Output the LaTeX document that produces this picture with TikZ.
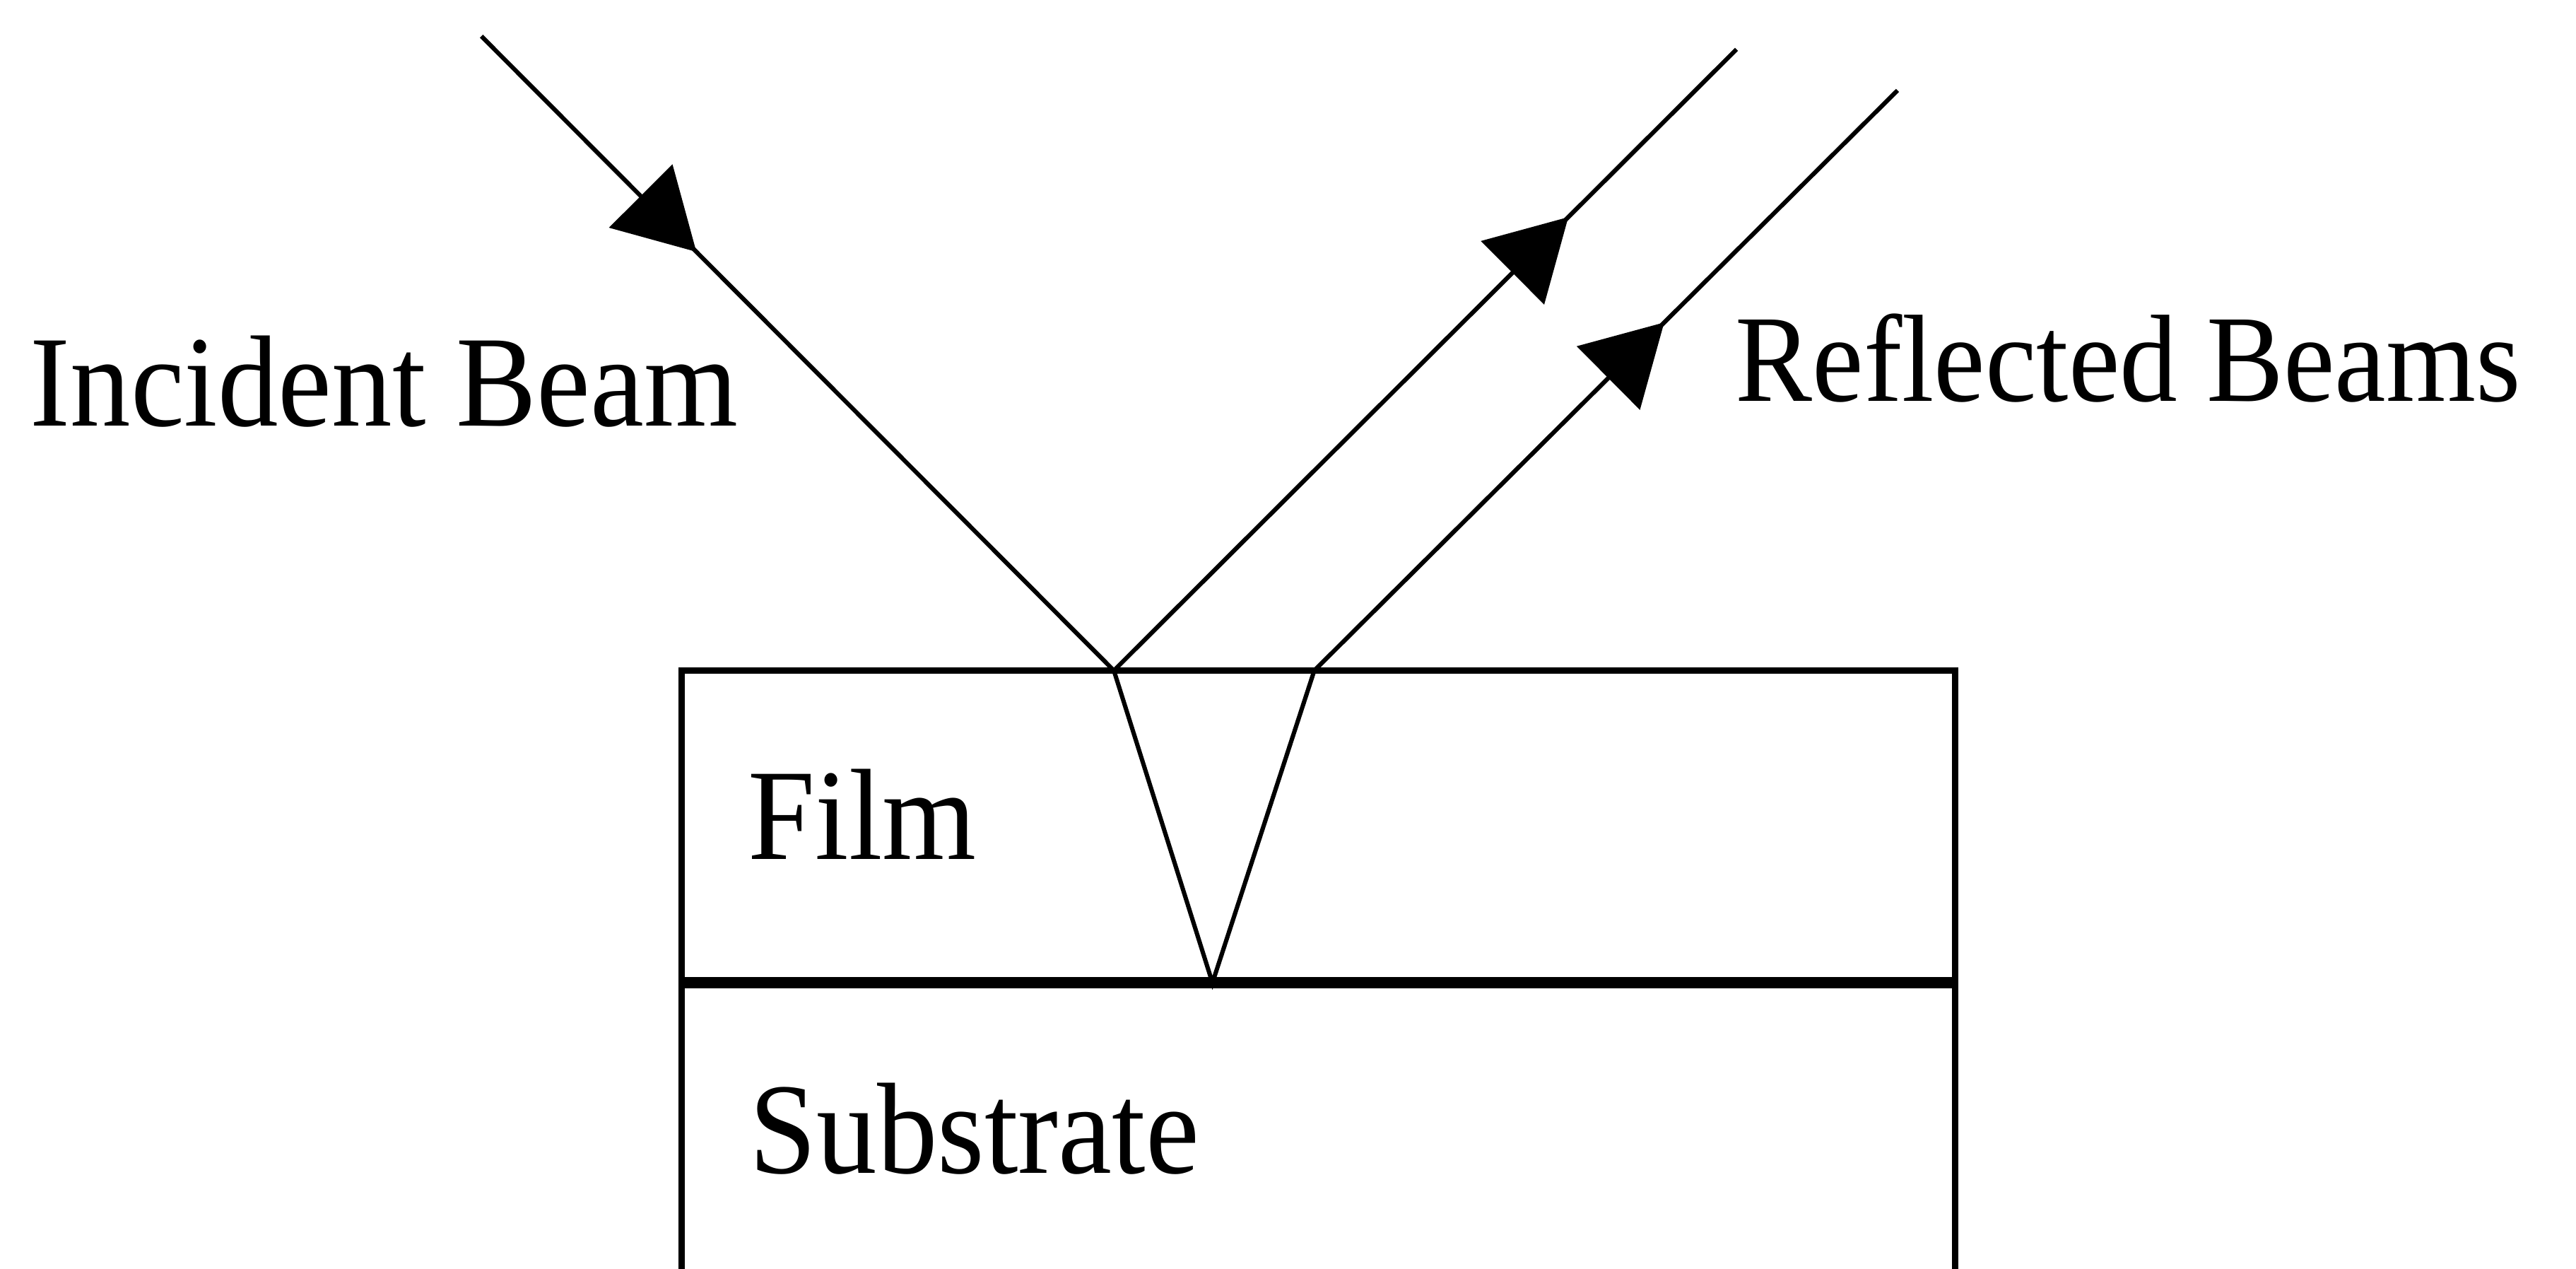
\documentclass[tikz,border=0pt]{standalone}
\usepackage{fontspec}
\setmainfont{Liberation Serif}[FakeStretch=0.93]
\usetikzlibrary{arrows.meta,decorations.markings}

\begin{document}
\begin{tikzpicture}[
  x=0.02cm,
  y=-0.02cm,
  caption/.style={anchor=base west, inner sep=0pt, font=\fontsize{45}{52}\selectfont},
  beam/.style={black, line width=1.5pt},
  wall/.style={black, line width=2.2pt, line join=miter},
  interface/.style={black, line width=3.8pt},
  tipat/.style={postaction={decorate}, decoration={markings,
    mark=at position #1 with {\arrow{Triangle[length=0.96cm, width=1.08cm]}}}}
]
\useasboundingbox (0,0) rectangle (1568,772);

\coordinate (inc) at (293,22);
\coordinate (hitA) at (678,408);
\coordinate (hitB) at (800,408);
\coordinate (bot) at (738,598);
\coordinate (outA) at (1057,30);
\coordinate (outB) at (1155,55);

\coordinate (boxLB) at (415,772);
\coordinate (boxLT) at (415,408);
\coordinate (boxRT) at (1190,408);
\coordinate (boxRB) at (1190,772);
\coordinate (ifL) at (415,598);
\coordinate (ifR) at (1190,598);

\draw[wall] (boxLB) -- (boxLT) -- (boxRT) -- (boxRB);
\draw[interface] (ifL) -- (ifR);

\draw[beam, tipat=0.34] (inc) -- (hitA);
\draw[beam] (hitA) -- (bot) -- (hitB);
\draw[beam, tipat=0.73] (hitA) -- (outA);
\draw[beam, tipat=0.60] (hitB) -- (outB);

\node[caption] (incident) at (18,259) {Incident Beam};
\node[caption, font=\fontsize{43}{50}\selectfont] (reflected) at (1056,244) {Reflected Beams};
\node[caption] (film) at (455,523) {Film};
\node[caption] (substrate) at (456,714) {Substrate};
\end{tikzpicture}
\end{document}
